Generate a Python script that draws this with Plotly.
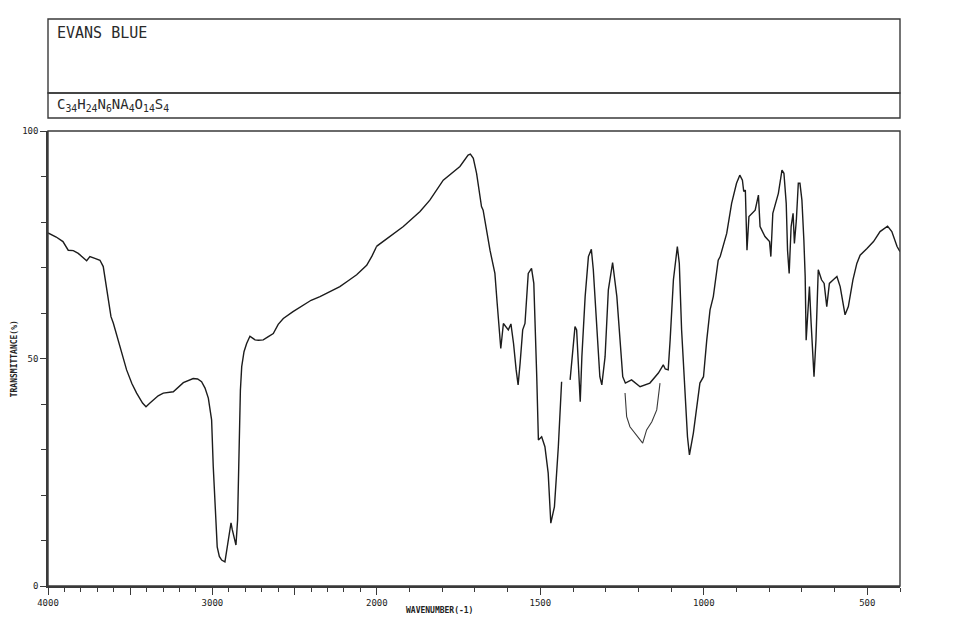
import plotly.graph_objects as go

# IR spectrum of Evans Blue (wavenumber cm-1, transmittance %)
wavenumber = [
    4000, 3950, 3909, 3877, 3846, 3816, 3765, 3745, 3715, 3684, 3664, 3643, 3617, 3603,
    3562, 3522, 3490, 3461, 3425, 3404, 3380, 3360, 3330, 3299, 3238, 3177, 3117, 3090,
    3066, 3045, 3025, 3005, 2995, 2979, 2971, 2958, 2944, 2924, 2914, 2904, 2887, 2880,
    2873, 2857, 2847, 2840, 2837, 2830, 2822, 2808, 2792, 2772, 2760, 2741, 2720, 2691,
    2660, 2630, 2600, 2569, 2510, 2448, 2400, 2346, 2290, 2225, 2170, 2123, 2062, 2030,
    2002, 1960, 1919, 1868, 1838, 1797, 1770, 1746, 1721, 1714, 1705, 1695, 1680, 1675,
    1654, 1639, 1632, 1626, 1621, 1613, 1605, 1598, 1590, 1582, 1574, 1568, 1562, 1554,
    1547, 1537, 1527, 1520, 1511, 1506, 1496, 1486, 1476, 1468, 1457, 1445, 1435, 1422,
    1409, 1404, 1394, 1389, 1384, 1378, 1373, 1363, 1353, 1344, 1338, 1328, 1318, 1312,
    1302, 1292, 1279, 1266, 1256, 1248, 1240, 1231, 1221, 1195, 1165, 1139, 1124, 1118,
    1109, 1103, 1093, 1081, 1075, 1068, 1058, 1050, 1044, 1032, 1012, 1001, 991, 981,
    971, 956, 950, 930, 915, 900, 890, 882, 878, 873, 868, 862, 843, 833, 828, 813, 799,
    795, 789, 772, 761, 755, 748, 744, 739, 733, 727, 723, 717, 711, 706, 700, 694, 690,
    687, 682, 677, 672, 666, 663, 657, 650, 640, 632, 624, 616, 604, 593, 583, 576, 568,
    558, 544, 532, 522, 501, 481, 461, 438, 425, 409, 400,
]
transmittance = [
    77.6, 76.7, 75.7, 73.8, 73.7, 73.1, 71.5, 72.4, 72.0, 71.6, 70.2, 65.1, 59.2, 57.8,
    52.6, 47.5, 44.5, 42.4, 40.2, 39.4, 40.2, 40.9, 41.8, 42.4, 42.7, 44.7, 45.6, 45.5,
    44.9, 43.5, 41.3, 36.5, 26.2, 14.5, 8.6, 6.5, 5.7, 5.3, 7.5, 10.1, 13.9, 12.5,
    11.6, 9.0, 14.5, 28.0, 37.2, 43.0, 48.2, 51.5, 53.3, 54.9, 54.6, 54.1, 54.0, 54.1,
    54.8, 55.5, 57.5, 58.8, 60.3, 61.8, 62.8, 63.6, 64.7, 65.8, 67.2, 68.4, 70.5, 72.5,
    74.6, 76.8, 79.0, 82.3, 84.8, 89.2, 90.7, 92.2, 94.7, 94.9, 94.0, 90.7, 83.4, 82.6,
    73.8, 68.7, 62.1, 56.3, 52.2, 57.7, 57.0, 56.3, 57.6, 53.3, 47.5, 44.2, 48.9, 56.3,
    57.7, 68.7, 69.8, 66.5, 46.0, 32.1, 32.8, 30.6, 24.8, 13.8, 17.4, 30.6, 44.9, None,
    45.3, 49.7, 57.0, 56.3, 49.7, 40.5, 50.4, 63.6, 72.4, 74.0, 69.5, 57.7, 46.0, 44.2,
    50.4, 65.1, 71.1, 63.6, 53.3, 46.0, 44.6, 45.0, 45.3, 43.8, 44.6, 46.8, 48.6, 47.7,
    47.5, 54.1, 67.3, 74.6, 70.9, 56.3, 41.6, 32.8, 28.8, 33.6, 44.6, 46.0, 54.1, 60.7,
    63.6, 71.6, 72.4, 77.5, 84.1, 88.5, 90.3, 89.2, 86.7, 87.0, 73.8, 81.2, 82.6, 85.9, 79.0, 76.8, 75.7,
    72.4, 81.9, 86.3, 91.4, 90.7, 84.1, 73.8, 68.7, 79.0, 81.9, 75.3, 80.4, 88.5, 88.5, 84.8, 76.0, 68.0,
    54.0, 60.0, 65.8, 58.0, 50.0, 46.0, 54.1, 69.5, 67.3, 66.5, 61.4, 66.5, 67.3, 68.0, 65.8, 62.9, 59.6,
    61.4, 67.3, 70.9, 72.7, 74.2, 75.7, 77.9, 79.1, 77.9, 74.6, 73.5,
]

# second (lower) pen trace in the 1240-1130 region
fork_wavenumber = [1241, 1236, 1226, 1210, 1198, 1187, 1175, 1159, 1144, 1134]
fork_transmittance = [42.4, 37.2, 35.0, 33.6, 32.5, 31.4, 34.3, 36.1, 38.7, 44.6]

title_text = "EVANS BLUE"
formula_text = "C<sub>34</sub>H<sub>24</sub>N<sub>6</sub>NA<sub>4</sub>O<sub>14</sub>S<sub>4</sub>"

LINE = dict(color="#1c1c1c", width=1.4)
AX = "#3a3a3a"
FONT = "DejaVu Sans Mono"
SPLIT = 0.386  # x-scale doubles below 2000 cm-1

# split the spectrum at 2000: high-wavenumber half on x, low half on x2
first_low = next(i for i, w in enumerate(wavenumber) if w < 2000)
hi_x, hi_y = wavenumber[:first_low + 1], transmittance[:first_low + 1]
lo_x, lo_y = wavenumber[first_low - 1:], transmittance[first_low - 1:]

fig = go.Figure()
fig.add_trace(go.Scatter(x=hi_x, y=hi_y, mode="lines", line=LINE, xaxis="x", yaxis="y"))
fig.add_trace(go.Scatter(x=lo_x, y=lo_y, mode="lines", line=LINE, xaxis="x2", yaxis="y",
                         connectgaps=False))
fig.add_trace(go.Scatter(x=fork_wavenumber, y=fork_transmittance, mode="lines",
                         line=dict(color="#3a3a3a", width=1.1), xaxis="x2", yaxis="y"))

tickfont = dict(family=FONT, size=9, color="#222")
common_x = dict(showline=True, linecolor=AX, linewidth=1.5, ticks="outside", ticklen=7,
                tickcolor=AX, tickwidth=1.3, showgrid=False, zeroline=False,
                tickfont=tickfont, anchor="y",
                minor=dict(dtick=100, ticks="outside", ticklen=4, tickcolor=AX, showgrid=False))

# the page body adds 8px around the figure, so the figure is 8px smaller
fig.update_layout(
    width=949, height=624,
    margin=dict(l=40, r=57, t=123, b=46),
    paper_bgcolor="white", plot_bgcolor="white",
    showlegend=False,
    xaxis=dict(domain=[0, SPLIT], range=[4000, 2000],
               tickvals=[4000, 3500, 3000, 2500], ticktext=["4000", "", "3000", ""],
               **common_x),
    xaxis2=dict(domain=[SPLIT, 1], range=[2000, 400],
                tickvals=[2000, 1500, 1000, 500], ticktext=["2000", "1500", "1000", "500"],
                **common_x),
    yaxis=dict(range=[0, 100], showline=True, linecolor=AX, linewidth=1.5, ticks="outside",
               ticklen=6, tickcolor=AX, tickwidth=1.3, tickvals=[0, 50, 100],
               showgrid=False, zeroline=False, tickfont=tickfont,
               minor=dict(dtick=10, ticks="outside", ticklen=5, tickcolor=AX, showgrid=False)),
)

# frame and header boxes
box = dict(type="rect", xref="paper", yref="paper", line=dict(color=AX, width=1.4))
fig.add_shape(x0=0, x1=1, y0=0, y1=1, **box)
fig.add_shape(x0=0, x1=1, y0=1.0835, y1=1.246, **box)
fig.add_shape(x0=0, x1=1, y0=1.0286, y1=1.0835, **box)

fig.add_annotation(text=title_text, xref="paper", yref="paper", x=0.008, y=1.215,
                   xanchor="left", yanchor="middle", showarrow=False,
                   font=dict(family=FONT, size=15, color="#2a2a2a"))
fig.add_annotation(text=formula_text, xref="paper", yref="paper", x=0.008, y=1.057,
                   xanchor="left", yanchor="middle", showarrow=False,
                   font=dict(family=FONT, size=14, color="#2a2a2a"))
fig.add_annotation(text="<b>TRANSMITTANCE(%)</b>", xref="paper", yref="paper", x=-0.039, y=0.5,
                   textangle=-90, showarrow=False, xanchor="center", yanchor="middle",
                   font=dict(family=FONT, size=8, color="#222"))
fig.add_annotation(text="<b>WAVENUMBER(-1)</b>", xref="paper", yref="paper", x=0.46, y=-0.053,
                   showarrow=False, xanchor="center", yanchor="middle",
                   font=dict(family=FONT, size=8, color="#222"))

fig.write_html("out.html")
